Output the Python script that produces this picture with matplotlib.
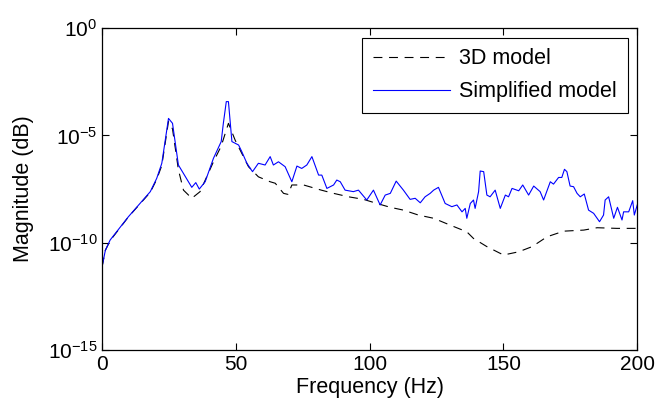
import matplotlib
matplotlib.use("Agg")
import matplotlib.pyplot as plt
import numpy as np
from matplotlib.ticker import FixedLocator, FuncFormatter

plt.rcParams['font.family'] = ['Liberation Sans', 'DejaVu Sans']
plt.rcParams['mathtext.fontset'] = 'custom'
plt.rcParams['mathtext.rm'] = 'Liberation Sans'
plt.rcParams['mathtext.it'] = 'Liberation Sans:italic'

# 3D model (dashed), frequency in Hz and log10 of the magnitude
freq_3d = [0, 1.2, 3, 9.8, 18, 20.4, 22.3, 24.8, 26.3, 28.5, 30.4, 33.5, 36.6, 41.6,
           44.5, 47.2, 49.7, 54.7, 58.4, 62.8, 64.7, 67.8, 69.5, 70.9, 75.3,
           81.9, 86.5, 92.1, 97.7, 102.7, 107.7, 112.6, 118.2, 123.9, 130.1,
           136.3, 138.8, 143.8, 150, 155.7, 160.7, 166.3, 172.5, 180, 185,
           192.4, 200]
log_3d = [-11.1, -10.35, -9.9, -8.8, -7.65, -7.05, -6.4, -4.35, -4.7, -6.6, -7.55, -7.93,
          -7.62, -6.23, -5.5, -4.44, -5.22, -6.46, -6.93, -7.16, -7.23, -7.70,
          -7.75, -7.31, -7.31, -7.55, -7.70, -7.86, -7.98, -8.17, -8.35, -8.48,
          -8.71, -8.86, -9.18, -9.49, -9.80, -10.18, -10.57, -10.42, -10.18,
          -9.72, -9.46, -9.41, -9.30, -9.33, -9.33]

# Simplified model (solid blue)
freq_simp = [0, 1.2, 3, 9.8, 18, 20.4, 22.3, 24.8, 26.3, 28.5, 33.5, 35, 36.3, 38.5,
             41.6, 44.5, 45.3, 46.4, 47.2, 48.5, 51, 52.2, 54.1, 56.2, 58.4,
             60.9, 62.8, 64, 65.9, 68.4, 70.9, 72.8, 74.6, 76.5, 78.4, 80.9,
             82.1, 84, 86.5, 87.7, 89, 90.8, 93.9, 95.8, 98.9, 101.4, 103.9,
             105.8, 107.7, 109.9, 112.6, 115.1, 117, 118.9, 120.7, 122.6,
             123.9, 125.7, 128.2, 130.7, 132.6, 134.5, 135.7, 136.3, 137.6,
             138.8, 139.4, 140.7, 141.3, 142.6, 143.8, 145, 146.9, 148.8,
             150.7, 151.9, 153.2, 155.7, 157.2, 159.4, 161.3, 163.7, 165,
             167.5, 168.7, 170.6, 171.8, 172.8, 173.7, 174.9, 176.2, 177.5,
             178.7, 180.2, 181.8, 183.7, 185.9, 187.4, 188, 189.3, 191.2,
             192.6, 194.3, 194.9, 196.8, 198.3, 198.9, 200]
log_simp = [-11.1, -10.35, -9.87, -8.79, -7.62, -7.0, -6.30, -4.21, -4.44, -6.38, -7.42,
            -7.2, -7.5, -7.16, -6.07, -5.29, -4.44, -3.43, -3.43, -5.29, -5.45,
            -5.76, -6.30, -6.69, -6.30, -6.38, -5.99, -6.38, -6.23, -6.46, -7.16,
            -6.43, -6.54, -6.38, -5.99, -6.85, -6.85, -7.47, -7.31, -7.08, -7.16,
            -7.55, -7.62, -7.55, -8.01, -7.55, -8.24, -7.78, -7.70, -7.13, -7.55,
            -7.98, -7.93, -8.14, -7.86, -7.70, -7.55, -7.42, -8.17, -8.32, -8.24,
            -8.56, -8.40, -8.86, -8.17, -8.01, -8.40, -7.62, -6.66, -6.69, -7.78,
            -7.86, -7.55, -8.40, -7.78, -7.86, -7.47, -7.58, -7.31, -7.78, -7.36,
            -7.62, -8.01, -7.16, -7.27, -6.96, -6.96, -6.58, -6.69, -7.36, -7.39,
            -7.70, -7.86, -7.73, -8.48, -8.63, -9.02, -8.71, -8.01, -7.86, -8.86,
            -8.35, -8.94, -8.56, -8.56, -8.04, -8.71, -8.24]

yticks = [1e-15, 1e-10, 1e-5, 1e0]

fig = plt.figure(figsize=(6.59, 4.11), dpi=100)
ax = fig.add_axes([0.155, 0.148, 0.812, 0.784])

ax.semilogy(freq_3d, 10.0 ** np.array(log_3d), '--', color='black', lw=0.8,
            dashes=(8, 6), label='3D model')
ax.semilogy(freq_simp, 10.0 ** np.array(log_simp), '-', color='blue', lw=0.8,
            label='Simplified model')

ax.set_xlim(0, 200)
ax.set_ylim(1e-15, 1e0)
ax.set_xticks([0, 50, 100, 150, 200])
ax.yaxis.set_major_locator(FixedLocator(yticks))
ax.yaxis.set_minor_locator(FixedLocator([]))
ax.yaxis.set_major_formatter(FuncFormatter(lambda v, p: r'$10^{%d}$' % round(np.log10(v))))
ax.tick_params(direction='in', top=True, right=True, labelsize=15, length=5, width=0.8)
for s in ax.spines.values():
    s.set_linewidth(0.9)

ax.set_xlabel('Frequency (Hz)', fontsize=15.5, labelpad=2)
ax.set_ylabel('Magnitude (dB)', fontsize=15.5, labelpad=10)

leg = ax.legend(loc='upper right', fontsize=15.5, fancybox=False, framealpha=1,
                edgecolor='black', handlelength=3.6, handletextpad=0.4,
                labelspacing=0.55, borderpad=0.5, borderaxespad=0.45)
leg.get_frame().set_linewidth(0.8)

fig.savefig('out.png', dpi=100)
